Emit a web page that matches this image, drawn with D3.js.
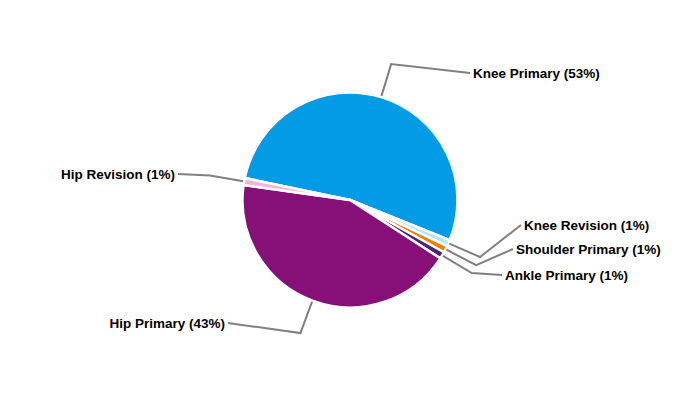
<!DOCTYPE html>
<html><head><meta charset="utf-8">
<script src="https://cdn.jsdelivr.net/npm/d3@7"></script>
<style>body{margin:0;background:#fff}svg{display:block}text{font-family:"Liberation Sans",Arial,sans-serif;font-weight:bold;font-size:13.5px;fill:#000}</style>
</head><body><svg id="c" width="700" height="400"></svg>
<script>
const categories = ["Knee Primary","Knee Revision","Shoulder Primary","Ankle Primary","Hip Primary","Hip Revision"];
const values = [52.8, 1.0, 1.0, 1.05, 43.1, 1.05];
const colors = ["#039be5","#b3e5fc","#f57c00","#4a2371","#870f78","#f4b2dc"];
// label anchor (line end) positions — layout only
const labelAnchors = [[470,73],[521,225],[513,249],[502,275],[228,323],[178,174]];

const svg = d3.select("#c");
const cx = 350, cy = 200, r = 107.5, elbowR = 142;
const total = d3.sum(values);
const start = -78.2 * Math.PI / 180;
const pie = d3.pie().sort(null).value(d => d).startAngle(start).endAngle(start + 2*Math.PI);
const arcs = pie(values);
const arc = d3.arc().innerRadius(0).outerRadius(r);
const g = svg.append("g").attr("transform", `translate(${cx},${cy})`);
g.selectAll("path").data(arcs).join("path")
  .attr("d", arc).attr("fill", (d,i) => colors[i])
  .attr("stroke", "#fff").attr("stroke-width", 2.5).attr("stroke-linejoin","round");

arcs.forEach((d,i) => {
  const a = (d.startAngle + d.endAngle)/2;
  const p0 = [cx + (r+1)*Math.sin(a), cy - (r+1)*Math.cos(a)];
  const p1 = [cx + elbowR*Math.sin(a), cy - elbowR*Math.cos(a)];
  const p2 = labelAnchors[i];
  svg.append("polyline").attr("points", [p0,p1,p2].map(p=>p.join(",")).join(" "))
    .attr("fill","none").attr("stroke","#808080").attr("stroke-width",2);
  const right = p2[0] > cx;
  const pct = Math.round(values[i]/total*100);
  svg.append("text").attr("x", p2[0] + (right?3:-3)).attr("y", p2[1])
    .attr("dy","0.35em").attr("text-anchor", right?"start":"end")
    .text(`${categories[i]} (${pct}%)`);
});
</script></body></html>
